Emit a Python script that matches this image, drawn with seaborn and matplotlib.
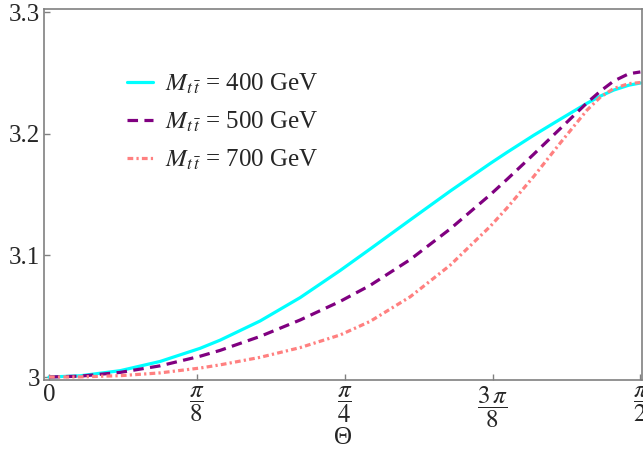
import numpy as np
import pandas as pd
import seaborn as sns
import matplotlib
matplotlib.use("Agg")
import matplotlib.pyplot as plt

# ---- data ----
theta = [0.0, 0.0824, 0.1887, 0.2951, 0.4014, 0.4545, 0.5609, 0.6672, 0.7735, 0.8533,
         0.9596, 1.0659, 1.1722, 1.2166, 1.2873, 1.3583, 1.4293, 1.465, 1.5000, 1.54, 1.5708]
m400 = [3.0, 3.0010, 3.0052, 3.0128, 3.0236, 3.0303, 3.0461, 3.0653, 3.0876, 3.1053,
        3.1292, 3.1529, 3.1756, 3.1847, 3.1987, 3.2120, 3.2251, 3.2310, 3.2359, 3.2399, 3.2417]
m500 = [3.0, 3.0007, 3.0038, 3.0092, 3.0171, 3.0219, 3.0334, 3.0469, 3.0622, 3.0754,
        3.0966, 3.1218, 3.1499, 3.1625, 3.1831, 3.2043, 3.2255, 3.2351, 3.2433, 3.2493, 3.2508]
m700 = [3.0, 3.0001, 3.0011, 3.0034, 3.0074, 3.0100, 3.0162, 3.0242, 3.0346, 3.0458,
        3.0660, 3.0920, 3.1239, 3.1390, 3.1648, 3.1925, 3.2195, 3.2302, 3.2372, 3.2412, 3.2421]
labels = [r"$M_{t\,\bar{t}}$ = 400 GeV", r"$M_{t\,\bar{t}}$ = 500 GeV", r"$M_{t\,\bar{t}}$ = 700 GeV"]
colors = ["#00FFFF", "#800080", "#FF8080"]
xticks = [0, np.pi / 8, np.pi / 4, 3 * np.pi / 8, np.pi / 2]
xticklabels = ["0", r"$\dfrac{\pi}{8}$", r"$\dfrac{\pi}{4}$", r"$\dfrac{3\,\pi}{8}$", r"$\dfrac{\pi}{2}$"]
yticks = [3.0, 3.1, 3.2, 3.3]
yticklabels = ["3", "3.1", "3.2", "3.3"]

sns.set_theme(style="white")
plt.rcParams["font.family"] = ["Liberation Serif", "DejaVu Serif"]
plt.rcParams["mathtext.fontset"] = "stix"

fig = plt.figure(figsize=(6.43, 4.53), dpi=100)
ax = fig.add_axes([0.0684, 0.161, 0.9306, 0.819])

styles = ["-", (0, (3.3, 2.0)), (0, (1.8, 1.0, 0.7, 1.0))]
for ys, lab, c, ls in zip([m400, m500, m700], labels, colors, styles):
    df = pd.DataFrame({"theta": theta, "val": ys})
    sns.lineplot(data=df, x="theta", y="val", ax=ax, color=c, linestyle=ls,
                 linewidth=2.3, label=lab, sort=False)

ax.set_xlim(-0.0133, 1.5761)
ax.set_ylim(2.9975, 3.3025)
ax.set_xticks(xticks)
ax.set_xticklabels(xticklabels)
ax.set_yticks(yticks)
ax.set_yticklabels(yticklabels)
ax.tick_params(axis="both", direction="in", length=4, width=1, color="#808080",
               labelsize=18, pad=3)
ax.tick_params(top=False, right=False, left=True, bottom=True)
for s in ax.spines.values():
    s.set_color("#808080")
    s.set_linewidth(1.2)
ax.set_xlabel("Θ", fontsize=18, labelpad=-2)
ax.set_ylabel("")

leg = ax.legend(loc="upper left", bbox_to_anchor=(127 / 643, 1 - 72 / 453),
                bbox_transform=fig.transFigure, frameon=False, borderpad=0,
                borderaxespad=0, fontsize=18, handlelength=1.05, handletextpad=0.48,
                labelspacing=0.55)

fig.savefig("out.png", dpi=100)
